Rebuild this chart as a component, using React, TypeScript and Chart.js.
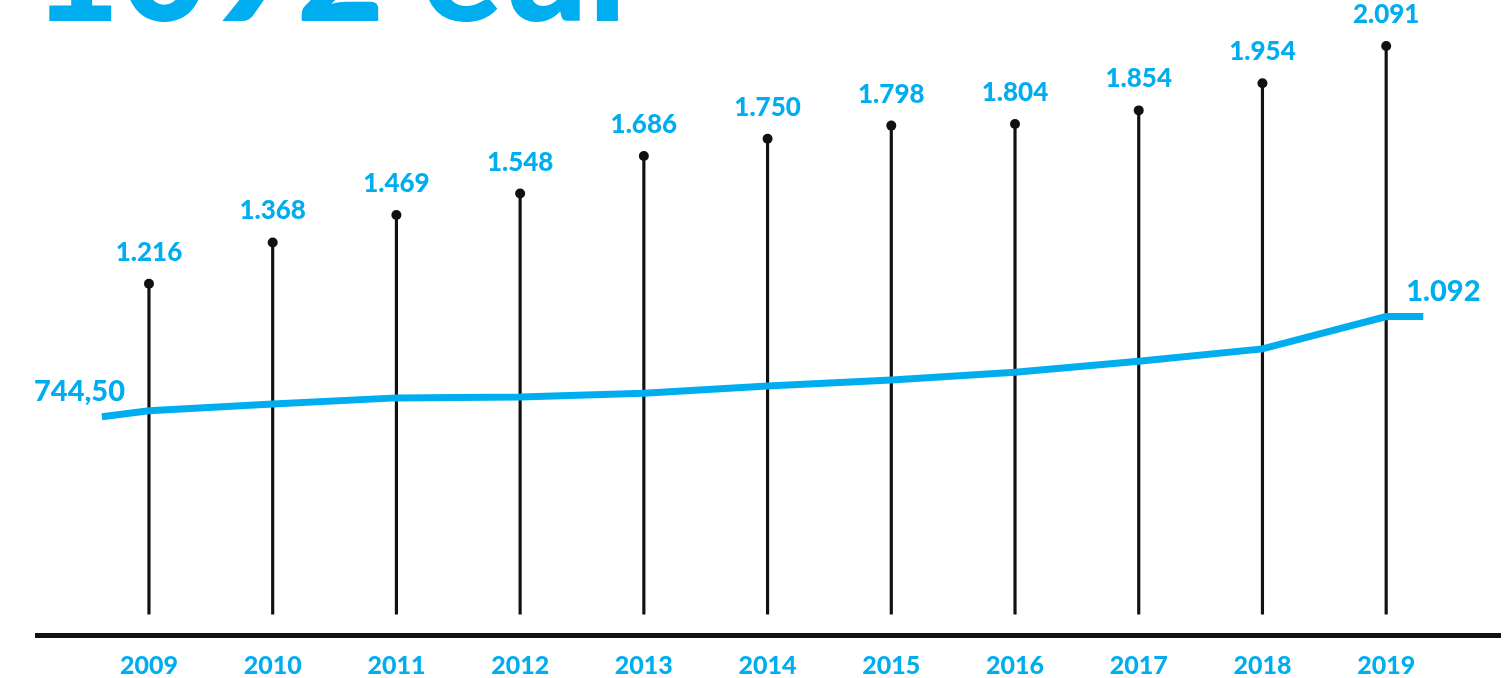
import { useEffect, useRef } from 'react';
import { Chart, registerables } from 'chart.js';

Chart.register(...registerables);

const CYAN = '#00AEEF';
const INK = '#111111';

const titleText = '1092 eur';
const years = [2009, 2010, 2011, 2012, 2013, 2014, 2015, 2016, 2017, 2018, 2019];
const stemValues = [1216, 1368, 1469, 1548, 1686, 1750, 1798, 1804, 1854, 1954, 2091];
const lineValues = [765, 789, 810, 813, 826, 851, 872, 899, 937, 980, 1092];
const lineStartValue = 744.5;
const lineEndValue = 1092;
const lineLeadIn = 0.38;
const lineLeadOut = 0.3;

function fmt(v: number, decimals = 0): string {
  const fixed = v.toFixed(decimals);
  const [int, dec] = fixed.split('.');
  const withSep = int.replace(/\B(?=(\d{3})+(?!\d))/g, '.');
  return dec ? `${withSep},${dec}` : withSep;
}

const labelPlugin = {
  id: 'customLabels',
  beforeDraw(chart: any) {
    const ctx = chart.ctx;
    ctx.save();
    ctx.fillStyle = CYAN;
    ctx.font = '900 152px Lato';
    ctx.textAlign = 'left';
    ctx.textBaseline = 'alphabetic';
    ctx.fillText(titleText, 32, 21);
    ctx.restore();
  },
  afterDatasetsDraw(chart: any) {
    const ctx = chart.ctx;
    ctx.save();
    ctx.fillStyle = CYAN;
    ctx.textBaseline = 'alphabetic';
    const dotMeta = chart.getDatasetMeta(2);
    ctx.font = '900 26px Lato';
    ctx.textAlign = 'center';
    dotMeta.data.forEach((pt: any, i: number) => {
      ctx.fillText(fmt(stemValues[i]), pt.x, pt.y - 23);
    });
    const lineMeta = chart.getDatasetMeta(1);
    const first = lineMeta.data[0];
    const last = lineMeta.data[lineMeta.data.length - 1];
    ctx.font = '900 29px Lato';
    ctx.textAlign = 'right';
    ctx.fillText(fmt(lineStartValue, 2), first.x + 23, first.y - 16);
    ctx.textAlign = 'left';
    ctx.fillText(fmt(lineEndValue), last.x - 17, last.y - 16);
    ctx.restore();
  },
};

export default function App() {
  const ref = useRef<HTMLCanvasElement | null>(null);

  useEffect(() => {
    if (!ref.current) return;
    const linePoints = [
      { x: years[0] - lineLeadIn, y: lineStartValue },
      ...years.map((x, i) => ({ x, y: lineValues[i] })),
      { x: years[years.length - 1] + lineLeadOut, y: lineEndValue },
    ];
    const chart = new Chart(ref.current, {
      type: 'bar',
      data: {
        datasets: [
          {
            type: 'bar',
            data: years.map((x, i) => ({ x, y: stemValues[i] })),
            backgroundColor: INK,
            barThickness: 2.5,
            yAxisID: 'y',
            order: 3,
          } as any,
          {
            type: 'line',
            data: linePoints,
            borderColor: CYAN,
            borderWidth: 7,
            pointRadius: 0,
            tension: 0,
            yAxisID: 'y2',
            order: 2,
          } as any,
          {
            type: 'line',
            data: years.map((x, i) => ({ x, y: stemValues[i] })),
            showLine: false,
            pointRadius: 5,
            pointBackgroundColor: INK,
            pointBorderColor: INK,
            pointBorderWidth: 0,
            yAxisID: 'y',
            order: 1,
          } as any,
        ],
      },
      options: {
        responsive: false,
        animation: false,
        layout: { padding: { left: 37, right: 11, top: 0, bottom: 0 } },
        plugins: {
          legend: { display: false },
          tooltip: { enabled: false },
          title: { display: false },
        },
        scales: {
          x: {
            type: 'linear',
            offset: false,
            min: 2008.095,
            max: 2019.92,
            grid: { display: false, offset: false },
            border: { display: true, color: INK, width: 5 },
            afterBuildTicks: (s: any) => {
              s.ticks = years.map((v) => ({ value: v }));
            },
            afterFit: (s: any) => {
              s.height = 43;
            },
            ticks: {
              color: CYAN,
              font: { family: 'Lato', weight: '900', size: 25 },
              padding: 8,
              autoSkip: false,
              maxRotation: 0,
              callback: (v: any) => String(v),
            },
          },
          y: {
            display: false,
            min: -77,
            max: 2242,
          },
          y2: {
            display: false,
            min: -12.4,
            max: 2172.6,
          },
        },
      } as any,
      plugins: [labelPlugin],
    });
    return () => chart.destroy();
  }, []);

  return (
    <div style={{ position: 'fixed', left: 0, top: 0, width: 1511, height: 678, background: '#fff' }}>
      <canvas ref={ref} width={1511} height={678} />
    </div>
  );
}
